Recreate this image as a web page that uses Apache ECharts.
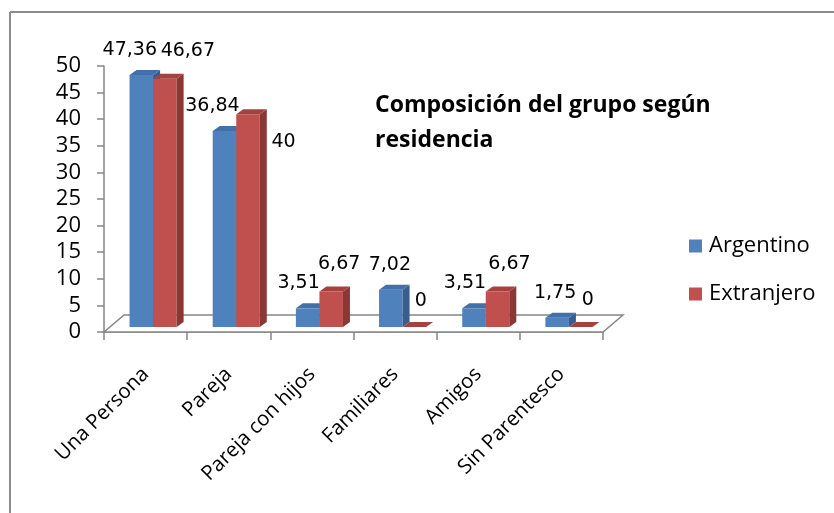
<!DOCTYPE html>
<html>
<head>
<meta charset="utf-8">
<script src="https://cdn.jsdelivr.net/npm/echarts@6/dist/echarts.min.js"></script>
<style>
html,body{margin:0;padding:0;background:#fff;}
#chart{width:834px;height:513px;}
</style>
</head>
<body>
<div id="chart"></div>
<script>
// ---- data ----
const categories = ['Una Persona', 'Pareja', 'Pareja con hijos', 'Familiares', 'Amigos', 'Sin Parentesco'];
const argentino = [47.36, 36.84, 3.51, 7.02, 3.51, 1.75];
const extranjero = [46.67, 40, 6.67, 0, 6.67, 0];
const seriesNames = ['Argentino', 'Extranjero'];
const yMin = 0, yMax = 50, yStep = 5;
const titleText = 'Composición del grupo según\nresidencia';

// ---- style ----
const faceColors = [
  { front: '#4F81BD', side: '#375E8E', top: '#4370A8' },
  { front: '#C0504D', side: '#8A3735', top: '#A5423F' }
];
const depthX = 7, depthY = -5;          // 3D depth of bars
const shiftX = 7.5, shiftY = -5;         // bars sit mid-depth of the floor
const floorDX = 20, floorDY = -17;       // floor depth
const barFrac = 0.283;                   // bar width / category width
// label placement offsets (pixels, relative to bar front-top centre)
const labelDX = [[-11.5, -12, -9, -1, -9, -2], [23, 35.5, 8, 6.5, 12, 7]];
const labelDY = [[-25, -25, -25, -25, -25, -25], [-28, 28, -27, -26, -27, -27]];
const axisGray = '#868686';

function fmt(v) { return String(v).replace('.', ','); }

function makeBarRender(sIdx) {
  return function (params, api) {
    const i = api.value(0);
    const v = api.value(1);
    const base = api.coord([i, 0]);
    const topPt = api.coord([i, v]);
    const bandW = api.size([1, 0])[0];
    const bw = bandW * barFrac;
    const left = (sIdx === 0 ? base[0] - bw : base[0]) + shiftX;
    const yB = base[1] + shiftY;
    const yT = topPt[1] + shiftY;
    const c = faceColors[sIdx];
    const children = [];
    if (yB - yT > 0.5) {
      children.push({ type: 'rect', shape: { x: left, y: yT, width: bw, height: yB - yT }, style: { fill: c.front } });
      children.push({ type: 'polygon', shape: { points: [[left + bw, yT], [left + bw + depthX, yT + depthY], [left + bw + depthX, yB + depthY], [left + bw, yB]] }, style: { fill: c.side } });
    }
    children.push({ type: 'polygon', shape: { points: [[left, yT], [left + depthX, yT + depthY], [left + bw + depthX, yT + depthY], [left + bw, yT]] }, style: { fill: c.top } });
    children.push({
      type: 'text',
      style: {
        x: left + bw / 2 + labelDX[sIdx][params.dataIndex],
        y: yT + labelDY[sIdx][params.dataIndex],
        text: fmt(v),
        align: 'center', verticalAlign: 'middle',
        fontFamily: 'DejaVu Sans', fontSize: 19, fill: '#000'
      }
    });
    return { type: 'group', children: children };
  };
}

const chart = echarts.init(document.getElementById('chart'), null, { renderer: 'canvas' });
const option = {
  animation: false,
  backgroundColor: '#fff',
  title: {
    text: titleText,
    left: 370, top: 83,
    textStyle: { fontFamily: 'Open Sans', fontWeight: 'bold', fontSize: 23, lineHeight: 35, color: '#000' }
  },
  legend: {
    orient: 'vertical',
    left: 684, top: 230,
    itemWidth: 13, itemHeight: 13, itemGap: 26,
    icon: 'rect',
    data: seriesNames,
    textStyle: { fontFamily: 'Open Sans', fontSize: 22, color: '#000', padding: [0, 0, 0, 2] }
  },
  grid: { left: 104, right: 231, top: 66, bottom: 181, containLabel: false },
  xAxis: {
    type: 'category',
    data: categories,
    axisLine: { lineStyle: { color: axisGray, width: 1.5 } },
    axisTick: { show: true, length: 8, lineStyle: { color: axisGray, width: 1.5 } },
    axisLabel: { rotate: 45, margin: 39, fontFamily: 'Open Sans', fontSize: 20.5, color: '#000', interval: 0 },
    splitLine: { show: false }
  },
  yAxis: {
    type: 'value',
    min: yMin, max: yMax, interval: yStep,
    axisLine: { show: true, lineStyle: { color: axisGray, width: 1.5 } },
    axisTick: { show: true, length: 7, lineStyle: { color: axisGray, width: 1.5 } },
    axisLabel: { margin: 23, fontFamily: 'Open Sans', fontSize: 22, color: '#000' },
    splitLine: { show: false }
  },
  graphic: [
    { type: 'line', shape: { x1: 10, y1: 12, x2: 834, y2: 12 }, style: { stroke: '#8c8c8c', lineWidth: 2 }, z: 10 },
    { type: 'line', shape: { x1: 10, y1: 12, x2: 10, y2: 513 }, style: { stroke: '#8c8c8c', lineWidth: 2 }, z: 10 }
  ],
  series: [
    {
      type: 'custom', name: 'floor', silent: true, z: 1,
      data: [[0]],
      renderItem: function (params, api) {
        const first = api.coord([0, 0]);
        const last = api.coord([categories.length - 1, 0]);
        const bandW = api.size([1, 0])[0];
        const x0 = first[0] - bandW / 2, x1 = last[0] + bandW / 2, y0 = first[1];
        return {
          type: 'polygon',
          shape: { points: [[x0, y0], [x0 + floorDX, y0 + floorDY], [x1 + floorDX, y0 + floorDY], [x1, y0]] },
          style: { fill: '#fff', stroke: axisGray, lineWidth: 1.5 }
        };
      }
    },
    {
      type: 'custom', name: seriesNames[0], z: 2,
      itemStyle: { color: faceColors[0].front },
      data: argentino.map((v, i) => [i, v]),
      renderItem: makeBarRender(0)
    },
    {
      type: 'custom', name: seriesNames[1], z: 3,
      itemStyle: { color: faceColors[1].front },
      data: extranjero.map((v, i) => [i, v]),
      renderItem: makeBarRender(1)
    }
  ]
};
chart.setOption(option);
</script>
</body>
</html>
